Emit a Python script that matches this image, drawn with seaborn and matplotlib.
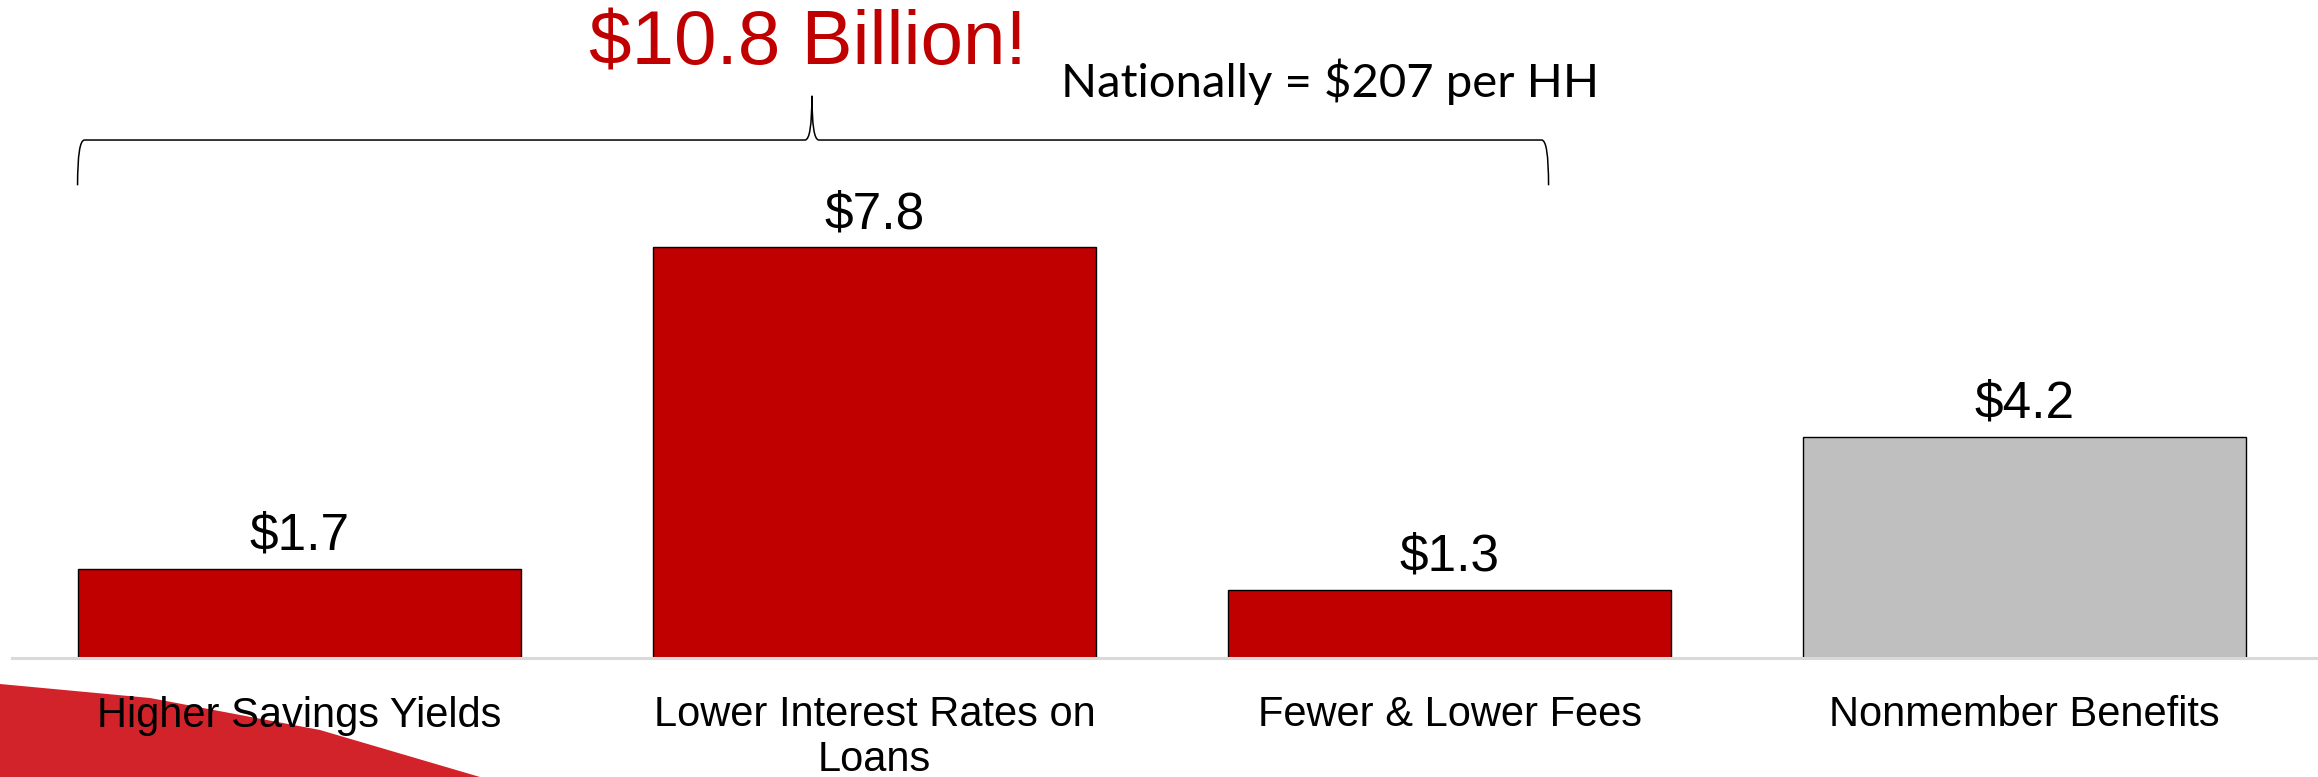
import textwrap
import numpy as np
import pandas as pd
import matplotlib
matplotlib.use("Agg")
import matplotlib.pyplot as plt
from matplotlib.path import Path
from matplotlib.patches import PathPatch, Polygon
import seaborn as sns

# Datos del grafico (miles de millones de USD)
categorias = ["Higher Savings Yields", "Lower Interest Rates on Loans",
              "Fewer & Lower Fees", "Nonmember Benefits"]
valores = [1.7, 7.8, 1.3, 4.2]
etiquetas_valor = ["$1.7", "$7.8", "$1.3", "$4.2"]
colores = ["#C00000", "#C00000", "#C00000", "#BFBFBF"]
titulo = "$10.8 Billion!"
subtitulo = "Nationally = $207 per HH"

df = pd.DataFrame({"categoria": categorias, "valor": valores})

sns.set_theme(style="white")
plt.rcParams["font.family"] = ["Liberation Sans", "DejaVu Sans"]

W, H = 2318, 777
fig = plt.figure(figsize=(W / 100, H / 100), dpi=100)
ax = fig.add_axes([12 / W, (H - 658) / H, 1 - 12 / W, 658 / H])
ax.set_zorder(2)

# Decoracion roja abajo a la izquierda (estilo diapositiva)
swoosh = [(0, 684), (150, 698), (320, 730), (480, 777), (0, 777)]
fig.patches.append(Polygon([(x / W, 1 - y / H) for x, y in swoosh], closed=True,
                           transform=fig.transFigure, facecolor="#D2232A",
                           edgecolor="none", zorder=0))

sns.barplot(data=df, x="categoria", y="valor", hue="categoria", palette=colores,
            legend=False, width=0.77, saturation=1, edgecolor="black",
            linewidth=1.0, ax=ax)

ax.set_xlim(-0.5, 3.51)
ax.set_ylim(0, 12.5)
ax.set_xlabel("")
ax.set_ylabel("")
ax.set_yticks([])
for lado in ["top", "left", "right"]:
    ax.spines[lado].set_visible(False)
ax.spines["bottom"].set_color("#D9D9D9")
ax.spines["bottom"].set_linewidth(2.2)
ax.patch.set_alpha(0)

ax.set_xticks(range(len(categorias)))
ax.set_xticklabels([textwrap.fill(c, 23) for c in categorias], fontsize=30,
                   linespacing=1.15)
ax.tick_params(axis="x", length=0, pad=27, colors="black")

# Etiquetas de valor sobre las barras
for i, (v, txt) in enumerate(zip(valores, etiquetas_valor)):
    ax.text(i, v + 0.36, txt, ha="center", va="baseline", fontsize=37, color="black")

# Llave que agrupa los beneficios de miembros
x0, x1, xp = -0.386, 2.172, 0.891
y_low, y_mid, y_peak = 8.98, 9.84, 10.68
r = 0.012
vertices = [(x0, y_low), (x0, y_mid), (x0 + r, y_mid),
            (xp - r, y_mid), (xp, y_mid), (xp, y_peak),
            (xp, y_mid), (xp + r, y_mid),
            (x1 - r, y_mid), (x1, y_mid), (x1, y_low)]
codigos = [Path.MOVETO, Path.CURVE3, Path.CURVE3,
           Path.LINETO, Path.CURVE3, Path.CURVE3,
           Path.CURVE3, Path.CURVE3,
           Path.LINETO, Path.CURVE3, Path.CURVE3]
ax.add_patch(PathPatch(Path(vertices, codigos), facecolor="none",
                       edgecolor="black", linewidth=1.1, clip_on=False))

fig.text(808 / W, 1 - 45 / H, titulo, ha="center", va="center",
         fontsize=55, color="#C00000")
fig.text(1061 / W, 1 - 82 / H, subtitulo, ha="left", va="center",
         fontsize=34, color="black", family=["Lato", "DejaVu Sans"])

fig.savefig("out.png", dpi=100)
plt.close(fig)
